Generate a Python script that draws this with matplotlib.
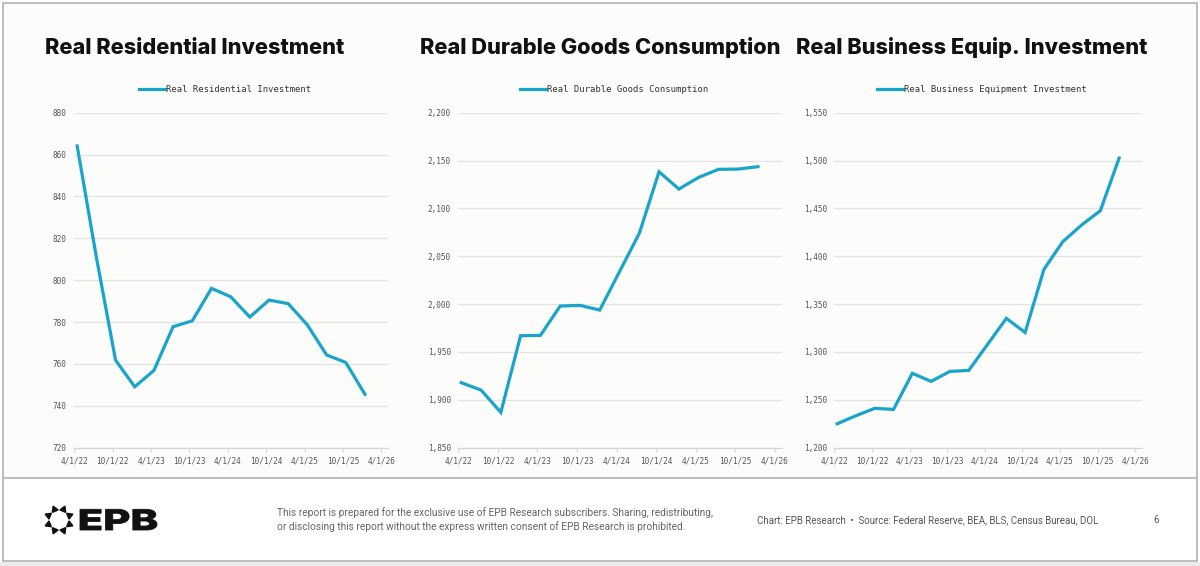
import matplotlib
matplotlib.use("Agg")
import matplotlib.pyplot as plt
import numpy as np
from matplotlib.patches import Rectangle, PathPatch
from matplotlib.textpath import TextPath
from matplotlib.font_manager import FontProperties
from matplotlib.transforms import Affine2D

# ---------------- data ----------------
quarters = ["4/1/22", "7/1/22", "10/1/22", "1/1/23", "4/1/23", "7/1/23", "10/1/23", "1/1/24",
            "4/1/24", "7/1/24", "10/1/24", "1/1/25", "4/1/25", "7/1/25", "10/1/25", "1/1/26"]
tick_labels = ["4/1/22", "10/1/22", "4/1/23", "10/1/23", "4/1/24", "10/1/24", "4/1/25", "10/1/25", "4/1/26"]

residential = [864.1, 811.0, 761.8, 749.1, 756.9, 777.8, 780.6, 796.1,
               792.1, 782.4, 790.5, 788.8, 778.6, 764.3, 760.7, 745.5]
durable = [1917.9, 1910.2, 1886.9, 1967.0, 1967.3, 1998.0, 1998.7, 1993.8,
           2033.9, 2073.9, 2138.3, 2120.2, 2132.4, 2140.8, 2141.1, 2143.6]
equipment = [1225.0, 1233.4, 1241.1, 1240.0, 1277.7, 1269.3, 1279.7, 1280.8,
             1307.9, 1335.1, 1320.4, 1386.3, 1415.2, 1432.6, 1447.6, 1502.6]

titles = ["Real Residential Investment", "Real Durable Goods Consumption", "Real Business Equip. Investment"]
legend_labels = ["Real Residential Investment", "Real Durable Goods Consumption", "Real Business Equipment Investment"]
yranges = [(720, 880, 20), (1850, 2200, 50), (1200, 1550, 50)]

LINE = "#19A4C9"
W, H = 1200, 566

fig = plt.figure(figsize=(W / 100, H / 100), dpi=100)
fig.patch.set_facecolor("#ebebeb")

# background page
bg = fig.add_axes([0, 0, 1, 1], zorder=-10)
bg.set_xlim(0, W)
bg.set_ylim(H, 0)
bg.axis("off")
bg.add_patch(Rectangle((0, 0), W, 562, facecolor="#ffffff", edgecolor="none"))
bg.add_patch(Rectangle((3, 3), 1194, 475, facecolor="#fcfcfa", edgecolor="none"))
bg.add_patch(Rectangle((3, 3), 1194, 558, facecolor="none", edgecolor="#b8b8b8", linewidth=1.3))
bg.plot([3, 1197], [478, 478], color="#b8b8b8", linewidth=1.3)

# EPB logo (dotted ring of triangles)
cx, cy, r = 58.5, 519.5, 11.5
for k in range(8):
    a = np.pi / 2 - k * np.pi / 4 + np.pi / 8
    mx, my = cx + r * np.cos(a), cy - r * np.sin(a)
    rot = np.degrees(a) - 90
    bg.plot(mx, my, marker=(3, 0, rot), markersize=5.2, color="#111111", linestyle="none")

# wide "EPB" wordmark, stretched to the reference proportions
tp = TextPath((0, 0), "EPB", size=10, prop=FontProperties(family=["Inter", "DejaVu Sans"], weight="heavy"))
ext = tp.get_extents()
sx = 77.0 / ext.width
sy = 20.7 / ext.height
tr = Affine2D().translate(-ext.x0, -ext.y0).scale(sx, -sy).translate(80, 530)
bg.add_patch(PathPatch(tr.transform_path(tp), facecolor="#111111", edgecolor="#111111", linewidth=0.6))

foot_font = ["Roboto", "DejaVu Sans"]
fig.text(277 / W, 1 - 513 / H, "This report is prepared for the exclusive use of EPB Research subscribers. Sharing, redistributing,",
         fontsize=7.25, color="#666666", va="center", ha="left", family=foot_font)
fig.text(277 / W, 1 - 527 / H, "or disclosing this report without the express written consent of EPB Research is prohibited.",
         fontsize=7.25, color="#666666", va="center", ha="left", family=foot_font)
fig.text(757 / W, 1 - 520 / H, "Chart: EPB Research  \u2022  Source: Federal Reserve, BEA, BLS, Census Bureau, DOL",
         fontsize=7.0, color="#555555", va="center", ha="left", family=foot_font)
fig.text(1156 / W, 1 - 520 / H, "6", fontsize=7.0, color="#555555", va="center", ha="center", family=foot_font)

# panels: (left, right) in px, title x
panels = [(74.3, 388.0, 45), (458.3, 781.7, 420), (834.3, 1141.7, 796)]
top_px, bot_px = 112.7, 447.7
series = [residential, durable, equipment]
mono = ["DejaVu Sans Mono"]

x = np.arange(len(quarters))
tick_pos = np.arange(len(tick_labels)) * 2 - 0.15

for i, ((l, rgt, tx), vals, (y0, y1, step)) in enumerate(zip(panels, series, yranges)):
    ax = fig.add_axes([l / W, 1 - bot_px / H, (rgt - l) / W, (bot_px - top_px) / H])
    ax.set_facecolor("none")
    ax.plot(x, vals, color=LINE, linewidth=2.3, solid_joinstyle="miter", label=legend_labels[i], zorder=3)
    ax.set_xlim(-0.15, 16.2)
    ax.set_ylim(y0, y1)
    yt = np.arange(y0, y1 + step / 2, step)
    ax.set_yticks(yt)
    ax.set_yticklabels([f"{int(v):,}" for v in yt], family=mono, fontsize=5.6, color="#555555")
    ax.set_xticks(tick_pos)
    ax.set_xticklabels(tick_labels, family=mono, fontsize=5.6, color="#555555")
    ax.grid(axis="y", color="#e3e3e3", linewidth=0.9)
    ax.set_axisbelow(True)
    for s in ["top", "right", "left"]:
        ax.spines[s].set_visible(False)
    ax.spines["bottom"].set_color("#d6d6d6")
    ax.spines["bottom"].set_linewidth(0.9)
    ax.tick_params(axis="y", length=0, pad=5.5)
    ax.tick_params(axis="x", length=3, width=0.8, color="#d6d6d6", pad=3)
    leg = ax.legend(loc="center", bbox_to_anchor=(0.5 - 6 / (rgt - l), 1 + (top_px - 90) / (bot_px - top_px)),
                    frameon=False, handlelength=2.9, handletextpad=0.1,
                    prop={"family": mono, "size": 6.4})
    for t in leg.get_texts():
        t.set_color("#333333")
    fig.text(tx / W, 1 - 48 / H, titles[i], fontsize=15.7, fontweight="heavy",
             family=["Inter", "DejaVu Sans"], color="#111111", va="center", ha="left")

fig.savefig("out.png", dpi=100, facecolor=fig.get_facecolor())
